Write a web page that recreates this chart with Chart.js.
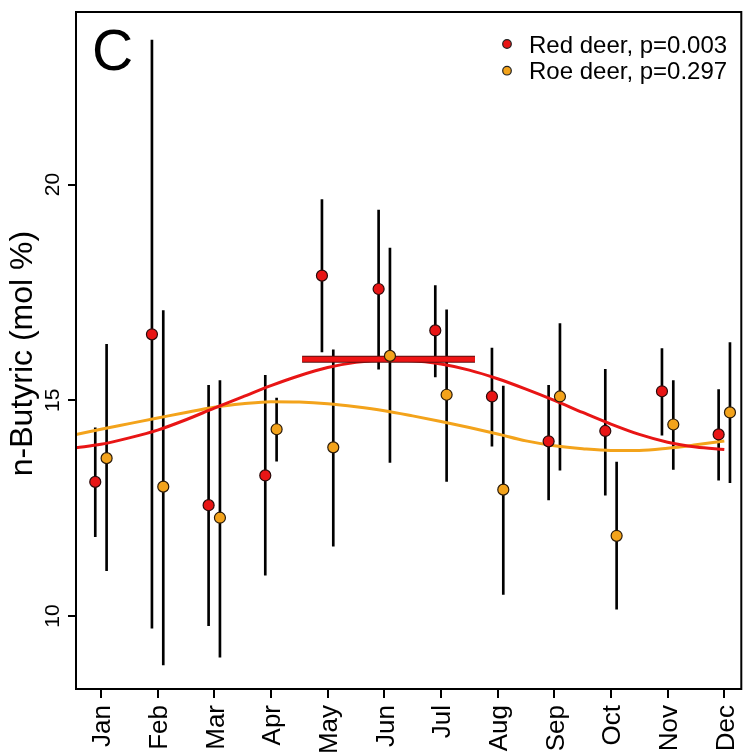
<!DOCTYPE html>
<html>
<head>
<meta charset="utf-8">
<script src="https://cdn.jsdelivr.net/npm/chart.js@4.4.0/dist/chart.umd.min.js"></script>
<style>
  html, body { margin: 0; padding: 0; background: #fff; }
</style>
</head>
<body>
<canvas id="mycanvas_butyric" width="748" height="756"></canvas>
<script>
var months = ['Jan', 'Feb', 'Mar', 'Apr', 'May', 'Jun', 'Jul', 'Aug', 'Sep', 'Oct', 'Nov', 'Dec'];
var monthPos = [1, 2, 3, 4, 5, 6, 7, 8, 9, 10, 11, 12];

// monthly means with error bar ends (mol %)
var redMean = [13.11, 16.53, 12.57, 13.26, 17.89, 17.58, 16.62, 15.09, 14.05, 14.29, 15.21, 14.21];
var redLow  = [11.84,  9.72,  9.78, 10.95, 16.12, 15.72, 15.54, 13.94, 12.69, 12.80, 14.19, 13.15];
var redHigh = [14.36, 23.35, 15.35, 15.58, 19.65, 19.41, 17.66, 16.21, 15.35, 15.72, 16.20, 15.25];

var roeMean = [13.66, 13.00, 12.28, 14.33, 13.91, 16.03, 15.13, 12.93, 15.09, 11.86, 14.44, 14.72];
var roeLow  = [11.05,  8.87,  9.05, 13.59, 11.62, 13.56, 13.12, 10.50, 13.38, 10.16, 13.40, 13.09];
var roeHigh = [16.30, 17.08, 15.46, 15.05, 16.17, 18.53, 17.10, 15.33, 16.78, 13.57, 15.46, 16.34];

// fitted seasonal curves
var curveX = [0.56, 1, 1.5, 2, 2.5, 3, 3.5, 4, 4.5, 5, 5.5, 6, 6.5, 7, 7.5, 8, 8.5, 9, 9.5, 10, 10.5, 11, 11.5, 12];
var redFit = [13.90, 13.98, 14.13, 14.31, 14.55, 14.82, 15.08, 15.34, 15.57, 15.76, 15.88, 15.93, 15.92, 15.84, 15.70, 15.50, 15.26, 15.00, 14.72, 14.45, 14.21, 14.03, 13.92, 13.86];
var roeFit = [14.21, 14.33, 14.46, 14.59, 14.72, 14.84, 14.92, 14.97, 14.96, 14.92, 14.85, 14.76, 14.64, 14.51, 14.37, 14.22, 14.06, 13.95, 13.88, 13.84, 13.84, 13.89, 13.97, 14.06];

// peak window of red deer
var peakSpan = [4.55, 7.6];
var peakLevel = 15.95;

var yTicks = [10, 15, 20];
var legendText = ['Red deer, p=0.003', 'Roe deer, p=0.297'];
var panelLetter = 'C';
var yTitle = 'n-Butyric (mol %)';

var dodge = 0.1;
var RED = '#e81515';
var ORANGE = '#f3a31b';
var FONT = '"Liberation Sans", Arial, sans-serif';

function points(mean, shift) {
    return monthPos.map(function (m, i) { return {x: m + shift, y: mean[i]}; });
}
function bars(low, high, shift) {
    return monthPos.map(function (m, i) { return {x: m + shift, y: [low[i], high[i]]}; });
}
function curve(vals) {
    return curveX.map(function (x, i) { return {x: x, y: vals[i]}; });
}

var drawText = {
    id: 'drawText',
    afterDraw: function (chart) {
        var ctx = chart.ctx;
        var area = chart.chartArea;
        var xs = chart.scales.x, ys = chart.scales.y;
        ctx.save();
        ctx.strokeStyle = '#000';
        ctx.lineWidth = 2;
        ctx.strokeRect(area.left, area.top, area.right - area.left, area.bottom - area.top);

        ctx.fillStyle = '#000';
        // month labels, rotated
        ctx.font = '26px ' + FONT;
        ctx.textAlign = 'right';
        ctx.textBaseline = 'alphabetic';
        months.forEach(function (name, i) {
            var px = xs.getPixelForValue(monthPos[i]);
            ctx.save();
            ctx.translate(px + 9.5, area.bottom + 16);
            ctx.rotate(-Math.PI / 2);
            ctx.fillText(name, 0, 0);
            ctx.restore();
        });

        // y tick labels, rotated
        ctx.font = '21px ' + FONT;
        ctx.textAlign = 'center';
        yTicks.forEach(function (v) {
            var py = ys.getPixelForValue(v);
            ctx.save();
            ctx.translate(59, py);
            ctx.rotate(-Math.PI / 2);
            ctx.fillText(String(v), 0, 0);
            ctx.restore();
        });

        // y title
        ctx.font = '32px ' + FONT;
        ctx.save();
        ctx.translate(32, (area.top + area.bottom) / 2 + 3);
        ctx.rotate(-Math.PI / 2);
        ctx.fillText(yTitle, 0, 0);
        ctx.restore();

        // panel letter
        ctx.font = '57px ' + FONT;
        ctx.textAlign = 'left';
        ctx.fillText(panelLetter, 92, 70);

        // legend
        var cols = [RED, ORANGE];
        ctx.font = '24px ' + FONT;
        legendText.forEach(function (t, i) {
            var cy = 44 + i * 26.7;
            ctx.beginPath();
            ctx.arc(507, cy, 4.3, 0, Math.PI * 2);
            ctx.fillStyle = cols[i];
            ctx.fill();
            ctx.lineWidth = 1.2;
            ctx.strokeStyle = '#222';
            ctx.stroke();
            ctx.fillStyle = '#000';
            ctx.fillText(t, 529, cy + 8.5);
        });
        ctx.restore();
    }
};

var ctx_butyric = document.getElementById('mycanvas_butyric').getContext('2d');

var myChart_butyric = new Chart(ctx_butyric, {
    type: 'scatter',
    data: {
        datasets: [{
            type: 'bar',
            data: bars(redLow, redHigh, -dodge),
            backgroundColor: '#000',
            borderWidth: 0,
            barThickness: 2,
            grouped: false,
            order: 6
        }, {
            type: 'bar',
            data: bars(roeLow, roeHigh, dodge),
            backgroundColor: '#000',
            borderWidth: 0,
            barThickness: 2,
            grouped: false,
            order: 6
        }, {
            type: 'line',
            data: curve(roeFit),
            borderColor: ORANGE,
            borderWidth: 3,
            pointRadius: 0,
            cubicInterpolationMode: 'monotone',
            order: 5
        }, {
            type: 'line',
            data: curve(redFit),
            borderColor: RED,
            borderWidth: 3,
            pointRadius: 0,
            cubicInterpolationMode: 'monotone',
            order: 4
        }, {
            type: 'line',
            data: peakSpan.map(function (x) { return {x: x, y: peakLevel}; }),
            borderColor: '#5a1010',
            borderWidth: 7,
            borderCapStyle: 'butt',
            pointRadius: 0,
            order: 3
        }, {
            type: 'line',
            data: peakSpan.map(function (x) { return {x: x, y: peakLevel}; }),
            borderColor: '#f01414',
            borderWidth: 5,
            borderCapStyle: 'butt',
            pointRadius: 0,
            order: 2
        }, {
            data: points(redMean, -dodge),
            backgroundColor: RED,
            borderColor: '#2a0a0a',
            borderWidth: 1.2,
            pointRadius: 5.5,
            order: 1
        }, {
            data: points(roeMean, dodge),
            backgroundColor: ORANGE,
            borderColor: '#2a1a08',
            borderWidth: 1.2,
            pointRadius: 5.5,
            order: 0
        }]
    },
    options: {
        responsive: false,
        animation: false,
        layout: { padding: { top: 12, right: 3, left: 0, bottom: 0 } },
        plugins: {
            legend: { display: false },
            tooltip: { enabled: false }
        },
        scales: {
            x: {
                type: 'linear',
                min: 0.56,
                max: 12.3,
                offset: false,
                afterBuildTicks: function (scale) {
                    scale.ticks = monthPos.map(function (m) { return {value: m}; });
                },
                afterFit: function (scale) { scale.height = 67; },
                ticks: { display: false },
                grid: { display: true, offset: false, drawOnChartArea: false, drawTicks: true, tickLength: 9, lineWidth: 2, color: '#000' },
                border: { display: true, width: 2, color: '#000' }
            },
            y: {
                type: 'linear',
                min: 8.31,
                max: 24.0,
                afterBuildTicks: function (scale) {
                    scale.ticks = yTicks.map(function (v) { return {value: v}; });
                },
                afterFit: function (scale) { scale.width = 76; },
                ticks: { display: false },
                grid: { display: true, drawOnChartArea: false, drawTicks: true, tickLength: 8, lineWidth: 2, color: '#000' },
                border: { display: true, width: 2, color: '#000' }
            }
        }
    },
    plugins: [drawText]
});
</script>
</body>
</html>
